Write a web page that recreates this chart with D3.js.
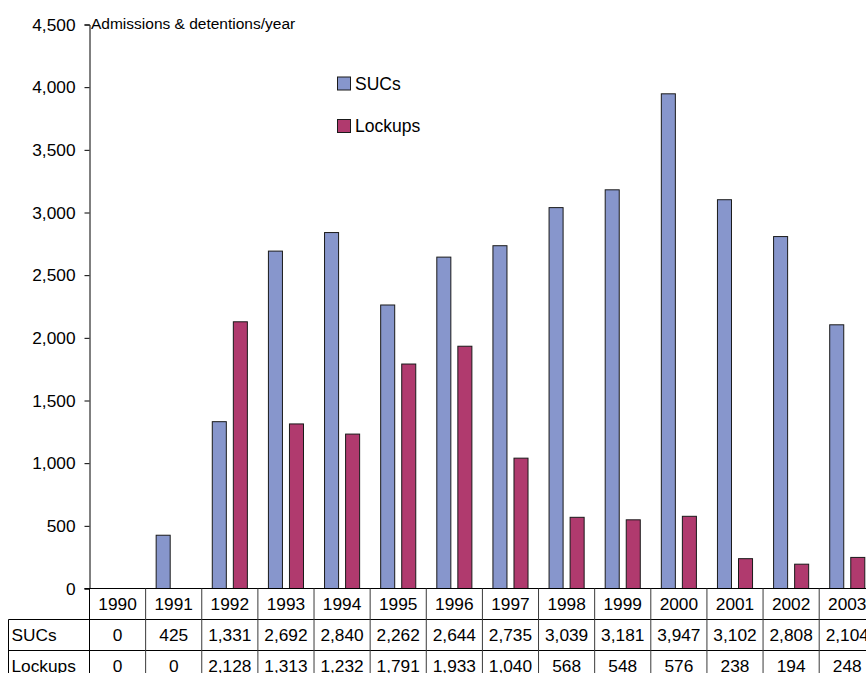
<!DOCTYPE html>
<html>
<head>
<meta charset="utf-8">
<script src="https://cdn.jsdelivr.net/npm/d3@7"></script>
<style>
  html, body { margin: 0; padding: 0; background: #fff; }
  svg { display: block; font-family: "Liberation Sans", Arial, sans-serif; }
</style>
</head>
<body>
<svg id="chart" width="866" height="673"></svg>
<script>
// Annual admissions & detentions
const years = ["1990","1991","1992","1993","1994","1995","1996","1997","1998","1999","2000","2001","2002","2003"];
const sucs = [0, 425, 1331, 2692, 2840, 2262, 2644, 2735, 3039, 3181, 3947, 3102, 2808, 2104];
const lockups = [0, 0, 2128, 1313, 1232, 1791, 1933, 1040, 568, 548, 576, 238, 194, 248];
const seriesNames = ["SUCs", "Lockups"];
const seriesColors = ["#8796cc", "#b03a6e"];
const yTicks = [0, 500, 1000, 1500, 2000, 2500, 3000, 3500, 4000, 4500];
const yTitle = "Admissions & detentions/year";

const series = [sucs, lockups];
const svg = d3.select("#chart");

const plotLeft = 89.5, plotTop = 24.5, plotBottom = 588.5;
const colW = 56.13;
const plotRight = plotLeft + colW * years.length;

const x = d3.scaleBand().domain(years).range([plotLeft, plotRight]).paddingInner(0).paddingOuter(0);
const xs = d3.scaleBand().domain(seriesNames).range([0, x.bandwidth()]).paddingInner(1/3).paddingOuter(0.5);
const y = d3.scaleLinear().domain([0, 4500]).range([plotBottom, plotTop]);
const fmt = d3.format(",");

// Bars
seriesNames.forEach((name, si) => {
  svg.append("g")
    .selectAll("rect")
    .data(years.map((yr, i) => ({ yr, v: series[si][i] })).filter(d => d.v > 0))
    .join("rect")
    .attr("x", d => x(d.yr) + xs(name))
    .attr("y", d => y(d.v))
    .attr("width", xs.bandwidth())
    .attr("height", d => y(0) - y(d.v))
    .attr("fill", seriesColors[si])
    .attr("stroke", "#1a1a1a")
    .attr("stroke-width", 1);
});

// Y axis
const yAxis = d3.axisLeft(y).tickValues(yTicks).tickFormat(fmt).tickSize(5).tickPadding(9);
const ya = svg.append("g").attr("transform", `translate(${plotLeft},0)`).call(yAxis);
ya.select(".domain").attr("stroke", "#000");
ya.selectAll(".tick line").attr("stroke", "#000");
ya.selectAll("text").attr("font-size", "17.3px").attr("fill", "#000")
  .attr("font-family", "'Liberation Sans', Arial, sans-serif");

// Axis title
svg.append("text")
  .attr("x", plotLeft + 1.5).attr("y", 29)
  .attr("font-size", "15.5px").attr("fill", "#000")
  .text(yTitle);

// Legend
const legend = svg.append("g");
seriesNames.forEach((name, si) => {
  const ly = 77 + si * 42.5;
  legend.append("rect")
    .attr("x", 337.5).attr("y", ly).attr("width", 13).attr("height", 13)
    .attr("fill", seriesColors[si]).attr("stroke", "#1a1a1a");
  legend.append("text")
    .attr("x", 355).attr("y", ly + 12.5)
    .attr("font-size", "17.5px").attr("fill", "#000")
    .text(name);
});

// Data table beneath the plot
const rowH = 31;
const tableLeft = 8.5;
const table = svg.append("g");
const rowTops = [plotBottom, plotBottom + rowH, plotBottom + 2 * rowH];

// horizontal rules
table.append("line").attr("x1", plotLeft - 5).attr("x2", plotRight).attr("y1", plotBottom).attr("y2", plotBottom).attr("stroke", "#000");
[rowTops[1], rowTops[2], rowTops[2] + rowH].forEach(ty => {
  table.append("line").attr("x1", tableLeft).attr("x2", plotRight).attr("y1", ty).attr("y2", ty).attr("stroke", "#000");
});
// label column left border
table.append("line").attr("x1", tableLeft).attr("x2", tableLeft).attr("y1", rowTops[1]).attr("y2", rowTops[2] + rowH).attr("stroke", "#000");
// y-axis continues down through the table
table.append("line").attr("x1", plotLeft).attr("x2", plotLeft).attr("y1", plotBottom).attr("y2", rowTops[2] + rowH).attr("stroke", "#000");
// column separators
years.forEach(yr => {
  const cx = x(yr) + x.bandwidth();
  table.append("line").attr("x1", cx).attr("x2", cx).attr("y1", plotBottom).attr("y2", rowTops[2] + rowH).attr("stroke", "#3a3a3a");
});

// header row: years
table.selectAll("text.yr").data(years).join("text")
  .attr("class", "yr")
  .attr("x", d => x(d) + x.bandwidth() / 2)
  .attr("y", plotBottom + 21)
  .attr("text-anchor", "middle").attr("font-size", "17.3px").attr("fill", "#000")
  .text(d => d);

// value rows
seriesNames.forEach((name, si) => {
  const base = rowTops[si + 1] + 21.5;
  table.append("text").attr("x", tableLeft + 3).attr("y", base)
    .attr("font-size", "17.3px").attr("fill", "#000").text(name);
  table.selectAll(null).data(years.map((yr, i) => ({ yr, v: series[si][i] }))).join("text")
    .attr("x", d => x(d.yr) + x.bandwidth() / 2)
    .attr("y", base)
    .attr("text-anchor", "middle").attr("font-size", "17.3px").attr("fill", "#000")
    .text(d => fmt(d.v));
});
</script>
</body>
</html>
